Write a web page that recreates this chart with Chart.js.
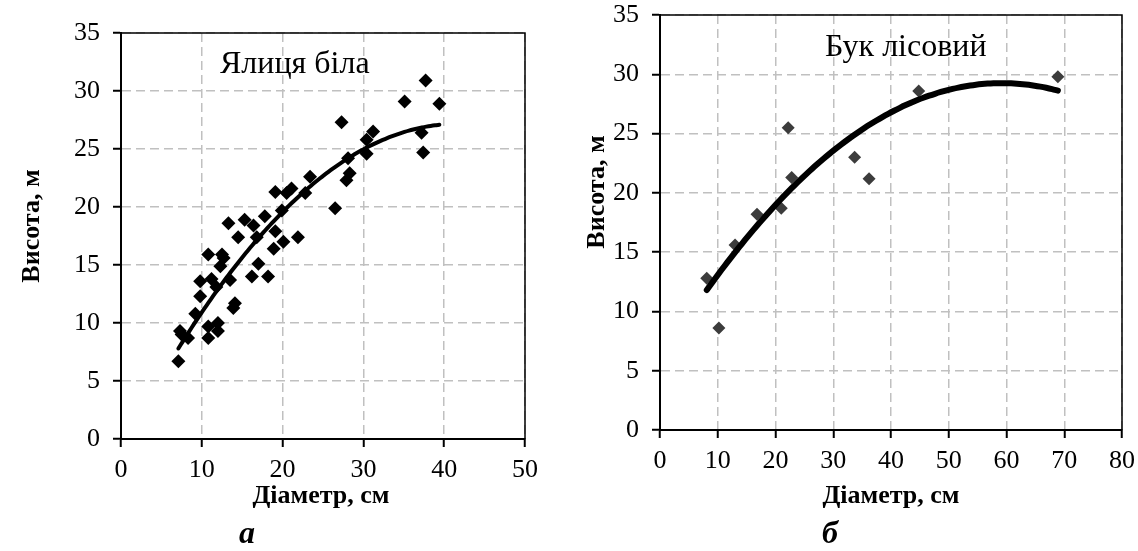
<!DOCTYPE html>
<html>
<head>
<meta charset="utf-8">
<script src="https://cdn.jsdelivr.net/npm/chart.js@4.4.1/dist/chart.umd.min.js"></script>
<style>
  html, body { margin: 0; padding: 0; background: #fff; }
  #wrap { position: relative; width: 1138px; height: 551px; }
  .box { position: absolute; top: 0; height: 551px; }
  #firBox { left: 0; width: 570px; }
  #beechBox { left: 570px; width: 568px; }
</style>
</head>
<body>
<div id="wrap">
  <div id="firBox" class="box"><canvas id="fir"></canvas></div>
  <div id="beechBox" class="box"><canvas id="beech"></canvas></div>
</div>
<script>
// Ялиця біла: діаметр (см) і висота (м)
const firDiam = [7.1, 7.3, 7.5, 8.3, 9.2, 9.8, 9.8, 10.8, 10.8, 10.8, 12.0, 12.0, 11.2, 11.8,
  12.5, 12.7, 12.3, 13.5, 13.3, 14.1, 13.9, 14.5, 15.3, 16.2, 16.4, 17.0, 16.8, 17.8, 18.2,
  18.9, 19.1, 20.1, 19.1, 20.5, 21.1, 19.9, 21.9, 22.8, 23.4, 26.5, 27.3, 27.9, 28.3, 28.1,
  30.4, 30.4, 31.2, 35.1, 37.2, 37.4, 39.4, 37.7];
const firHeight = [6.7, 9.3, 9.0, 8.7, 10.8, 12.3, 13.6, 15.9, 9.7, 8.7, 10.0, 9.3, 13.8, 13.1,
  15.9, 15.6, 14.9, 13.7, 18.6, 11.7, 11.3, 17.4, 18.9, 14.0, 18.4, 15.1, 17.4, 19.2, 14.0,
  16.4, 17.9, 17.0, 21.3, 21.2, 21.6, 19.7, 17.4, 21.2, 22.6, 19.9, 27.3, 22.3, 22.9, 24.2,
  24.6, 25.8, 26.5, 29.1, 26.4, 24.7, 28.9, 30.9];
// тренд: y = a + b*x + c*x^2
const firTrend = [-0.985, 1.3527, -0.01625];

// Бук лісовий
const beechDiam = [8.1, 10.2, 13.0, 16.8, 21.0, 22.2, 22.8, 33.7, 36.2, 44.8, 68.9];
const beechHeight = [12.8, 8.6, 15.6, 18.2, 18.7, 25.5, 21.3, 23.0, 21.2, 28.6, 29.8];
const beechTrend = [5.83, 0.7913, -0.006683];

const yTicks = [0, 5, 10, 15, 20, 25, 30, 35];
const firXTicks = [0, 10, 20, 30, 40, 50];
const beechXTicks = [0, 10, 20, 30, 40, 50, 60, 70, 80];

const SERIF = '"Liberation Serif", "Times New Roman", serif';

// крива тренду в межах діапазону діаметрів
function trendPoints(xs, coef) {
  const [a, b, c] = coef;
  const lo = Math.min(...xs), hi = Math.max(...xs);
  const pts = [];
  for (let i = 0; i <= 60; i++) {
    const x = lo + (hi - lo) * i / 60;
    pts.push({ x, y: a + b * x + c * x * x });
  }
  return pts;
}

// рамка області побудови та підписи
const framePlugin = {
  id: 'frame',
  afterDraw(chart, args, opts) {
    const { ctx, chartArea: a } = chart;
    ctx.save();
    ctx.strokeStyle = '#000';
    ctx.lineWidth = 1.5;
    ctx.strokeRect(a.left, a.top, a.right - a.left, a.bottom - a.top);
    ctx.fillStyle = '#000';
    opts.texts.forEach(t => {
      ctx.save();
      ctx.font = t.font;
      ctx.textAlign = t.align || 'center';
      ctx.textBaseline = 'alphabetic';
      ctx.translate(t.x, t.y);
      if (t.rotate) {
        ctx.rotate(-Math.PI / 2);
        ctx.textBaseline = 'middle';
      }
      ctx.fillText(t.text, 0, 0);
      ctx.restore();
    });
    ctx.restore();
  }
};

function makeChart(id, cfg) {
  const grid = {
    color: '#c0c0c0', lineWidth: 1.5,
    tickColor: '#000', tickWidth: 2, tickLength: 8, tickBorderDash: []
  };
  const border = { display: true, color: '#000', width: 2, dash: [9, 5] };
  return new Chart(document.getElementById(id), {
    type: 'scatter',
    data: {
      datasets: [
        {
          type: 'line',
          data: trendPoints(cfg.xs, cfg.trend),
          borderColor: '#000',
          borderWidth: cfg.lineWidth,
          borderCapStyle: 'round',
          pointRadius: 0,
          tension: 0.3,
          order: 0
        },
        {
          data: cfg.xs.map((x, i) => ({ x, y: cfg.ys[i] })),
          pointStyle: 'rectRot',
          pointRadius: cfg.pointRadius,
          backgroundColor: cfg.pointColor,
          borderWidth: 0,
          order: 1
        }
      ]
    },
    options: {
      responsive: true,
      maintainAspectRatio: false,
      animation: false,
      events: [],
      layout: { padding: cfg.padding },
      plugins: {
        legend: { display: false },
        tooltip: { enabled: false },
        frame: { texts: cfg.texts }
      },
      scales: {
        x: {
          type: 'linear',
          min: 0,
          max: cfg.xMax,
          afterBuildTicks: s => { s.ticks = cfg.xTicks.map(v => ({ value: v })); },
          afterFit: s => { s.height = cfg.xHeight; s.paddingLeft = 0; s.paddingRight = 0; },
          ticks: { color: '#000', font: { family: SERIF, size: 26 }, padding: 8 },
          border,
          grid
        },
        y: {
          type: 'linear',
          min: 0,
          max: 35,
          afterBuildTicks: s => { s.ticks = yTicks.map(v => ({ value: v })); },
          afterFit: s => { s.width = cfg.yWidth; s.paddingTop = 0; s.paddingBottom = 0; },
          ticks: { color: '#000', font: { family: SERIF, size: 26 }, padding: 13 },
          border,
          grid
        }
      }
    },
    plugins: [framePlugin]
  });
}

makeChart('fir', {
  xs: firDiam, ys: firHeight, trend: firTrend, xMax: 50, xTicks: firXTicks,
  pointRadius: 7, pointColor: '#000', lineWidth: 4,
  padding: { left: 0, right: 45, top: 33, bottom: 0 }, yWidth: 121, xHeight: 112,
  texts: [
    { text: 'Ялиця біла', x: 220, y: 73, align: 'left', font: '32px ' + SERIF },
    { text: 'Висота, м', x: 32, y: 226, rotate: true, font: 'bold 26px ' + SERIF },
    { text: 'Діаметр, см', x: 321, y: 503, font: 'bold 26px ' + SERIF },
    { text: 'а', x: 247, y: 543, font: 'italic bold 32px ' + SERIF }
  ]
});

makeChart('beech', {
  xs: beechDiam, ys: beechHeight, trend: beechTrend, xMax: 80, xTicks: beechXTicks,
  pointRadius: 6.5, pointColor: '#3c3c3c', lineWidth: 6,
  padding: { left: 0, right: 16, top: 15, bottom: 0 }, yWidth: 90, xHeight: 121,
  texts: [
    { text: 'Бук лісовий', x: 255, y: 56, align: 'left', font: '32px ' + SERIF },
    { text: 'Висота, м', x: 27, y: 192, rotate: true, font: 'bold 26px ' + SERIF },
    { text: 'Діаметр, см', x: 321, y: 503, font: 'bold 26px ' + SERIF },
    { text: 'б', x: 260, y: 543, font: 'italic bold 32px ' + SERIF }
  ]
});
</script>
</body>
</html>
